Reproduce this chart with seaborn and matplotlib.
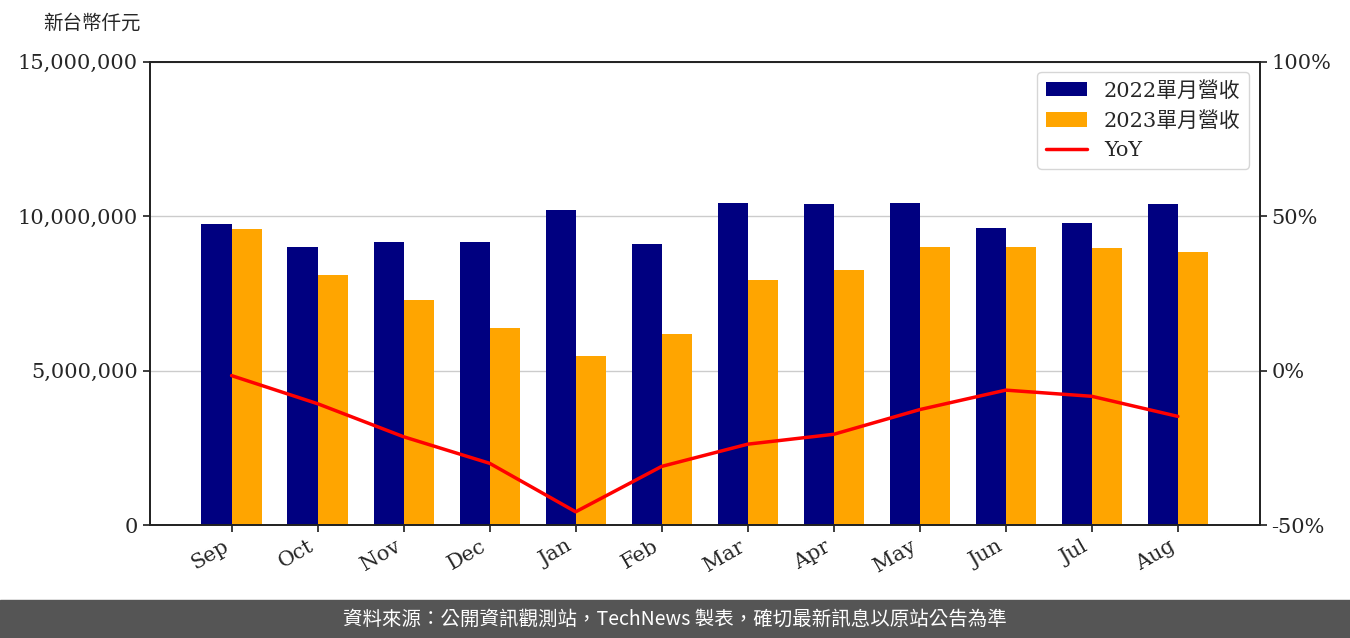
import matplotlib
matplotlib.use("Agg")
import matplotlib.pyplot as plt
import seaborn as sns
import pandas as pd
from matplotlib.ticker import FuncFormatter

months = ["Sep","Oct","Nov","Dec","Jan","Feb","Mar","Apr","May","Jun","Jul","Aug"]
rev_2022 = [9750000,9000000,9170000,9170000,10200000,9100000,10430000,10400000,10430000,9620000,9780000,10400000]
rev_2023 = [9590000,8100000,7290000,6380000,5470000,6190000,7940000,8260000,9000000,9000000,8970000,8840000]
yoy = [-1.6,-10.7,-21.4,-30.0,-45.7,-31.0,-23.8,-20.6,-12.6,-6.3,-8.3,-14.8]
s22, s23 = "2022單月營收", "2023單月營收"

sns.set_theme(style="white")
plt.rcParams['font.family'] = ['DejaVu Serif', 'Noto Sans CJK TC']

df = pd.DataFrame({"m": months*2, "v": rev_2022+rev_2023, "s": [s22]*12+[s23]*12})
fig = plt.figure(figsize=(13.5,6.38), dpi=100)
ax = fig.add_axes([0.111,0.177,0.822,0.726])
sns.barplot(data=df, x="m", y="v", hue="s", palette=["#000080","#FFA500"], width=0.7, ax=ax,
            saturation=1, linewidth=0)
ax.set_ylim(0,15000000)
ax.set_yticks([0,5000000,10000000,15000000])
ax.yaxis.set_major_formatter(FuncFormatter(lambda v,p: f"{int(v):,}"))
ax.grid(axis='y', color='#cccccc', lw=1)
ax.set_axisbelow(True)
ax.set_xlabel(""); ax.set_ylabel("")
ax.set_xlim(-0.95, 11.95)
for l in ax.get_xticklabels():
    l.set_rotation(30); l.set_ha('right')
ax.tick_params(labelsize=15, left=True, bottom=True, length=5)
for sp in ax.spines.values():
    sp.set_color('black')
ax2 = ax.twinx()
ln, = ax2.plot(range(12), yoy, color='red', lw=2.5, label='YoY')
ax2.set_ylim(-50,100)
ax2.set_yticks([-50,0,50,100])
ax2.set_yticklabels(["-50%","0%","50%","100%"])
ax2.tick_params(labelsize=15, right=True, length=5)
h,l = ax.get_legend_handles_labels()
ax.get_legend().remove()
ax2.legend(h+[ln], l+['YoY'], loc='upper right', fontsize=15, frameon=True, edgecolor='#cccccc')
fig.text(0.032, 0.955, "新台幣仟元", fontsize=14, family=['Noto Sans CJK TC'])
fig.patches.append(plt.Rectangle((0,0),1,0.06, transform=fig.transFigure, color='#555555', zorder=0))
fig.text(0.5, 0.03, "資料來源：公開資訊觀測站，TechNews 製表，確切最新訊息以原站公告為準", color='white',
         fontsize=14, ha='center', va='center', family=['Noto Sans CJK TC'])
fig.savefig("out.png", dpi=100)
